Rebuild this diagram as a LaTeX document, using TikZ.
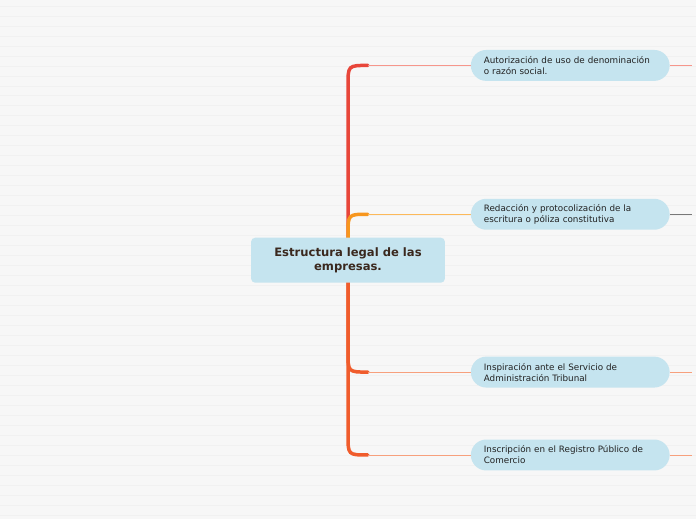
\documentclass[tikz,border=0pt]{standalone}
\usepackage{fontspec}
\setmainfont{DejaVu Sans}
\definecolor{paper}{RGB}{247,247,247}
\definecolor{rule}{RGB}{241,241,241}
\definecolor{bubble}{RGB}{197,228,239}
\definecolor{rootink}{RGB}{58,40,30}
\definecolor{leafink}{RGB}{34,34,34}
\definecolor{redtrunk}{RGB}{232,70,58}
\definecolor{redtwig}{RGB}{246,150,140}
\definecolor{orgtrunk}{RGB}{247,150,30}
\definecolor{orgtwig}{RGB}{252,185,90}
\definecolor{saltrunk}{RGB}{240,92,44}
\definecolor{saltwig}{RGB}{247,160,125}
\definecolor{graytwig}{RGB}{120,120,120}
\usetikzlibrary{positioning,calc}
\pgfdeclarelayer{paperlayer}
\pgfdeclarelayer{bg}
\pgfsetlayers{paperlayer,bg,main}

\begin{document}
\begin{tikzpicture}[x=1pt, y=-1pt,
    rootbox/.style={fill=bubble, rounded corners=4pt, minimum width=194pt, minimum height=45pt,
                    align=center, text=rootink, font=\fontsize{11.6}{14}\selectfont\bfseries},
    leafbox/.style={fill=bubble, rounded corners=15.5pt, minimum width=199pt, minimum height=31pt,
                    text width=173pt, align=left, text=leafink, font=\fontsize{8.8}{11}\selectfont},
    trunk/.style={line width=3.5pt, line cap=round},
    twig/.style={line width=0.9pt}]
  % paper
  \begin{pgfonlayer}{paperlayer}
    \fill[paper] (0,0) rectangle (696,520);
    \foreach \y in {6,16,...,516}
      \draw[rule, line width=0.8pt] (0,\y) -- (696,\y);
  \end{pgfonlayer}
  \useasboundingbox (0,0) rectangle (696,520);

  % topics
  \node[rootbox] (root) at (348,260.5) {Estructura legal de las\\empresas.};
  \node[leafbox] (auth) at (570.5,65.5) {Autorización de uso de denominación\\o razón social.};
  \node[leafbox] (draft) at (570.5,214.5) {Redacción y protocolización de la\\escritura o póliza constitutiva};
  \node[leafbox] (tax) at (570.5,372.5) {Inspiración ante el Servicio de\\Administración Tribunal};
  \node[leafbox] (reg) at (570.5,455.5) {Inscripción en el Registro Público de\\Comercio};

  % branches
  \begin{pgfonlayer}{bg}
    \draw[trunk, redtrunk] (root.center) -- ($(root.center |- auth.west)+(0,20)$)
      .. controls (root.center |- auth.west) .. ($(root.center |- auth.west)+(20,0)$);
    \draw[twig, redtwig] ($(root.center |- auth.west)+(20,0)$) -- (auth.west);
    \draw[twig, redtwig] (auth.east) -- ++(22,0);

    \draw[trunk, orgtrunk] (root.center) -- ($(root.center |- draft.west)+(0,20)$)
      .. controls (root.center |- draft.west) .. ($(root.center |- draft.west)+(20,0)$);
    \draw[twig, orgtwig] ($(root.center |- draft.west)+(20,0)$) -- (draft.west);
    \draw[twig, graytwig] (draft.east) -- ++(22,0);

    \draw[trunk, saltrunk] (root.center) -- ($(root.center |- tax.west)+(0,-20)$)
      .. controls (root.center |- tax.west) .. ($(root.center |- tax.west)+(20,0)$);
    \draw[twig, saltwig] ($(root.center |- tax.west)+(20,0)$) -- (tax.west);
    \draw[twig, saltwig] (tax.east) -- ++(22,0);

    \draw[trunk, saltrunk] (root.center) -- ($(root.center |- reg.west)+(0,-20)$)
      .. controls (root.center |- reg.west) .. ($(root.center |- reg.west)+(20,0)$);
    \draw[twig, saltwig] ($(root.center |- reg.west)+(20,0)$) -- (reg.west);
    \draw[twig, saltwig] (reg.east) -- ++(22,0);
  \end{pgfonlayer}
\end{tikzpicture}
\end{document}
